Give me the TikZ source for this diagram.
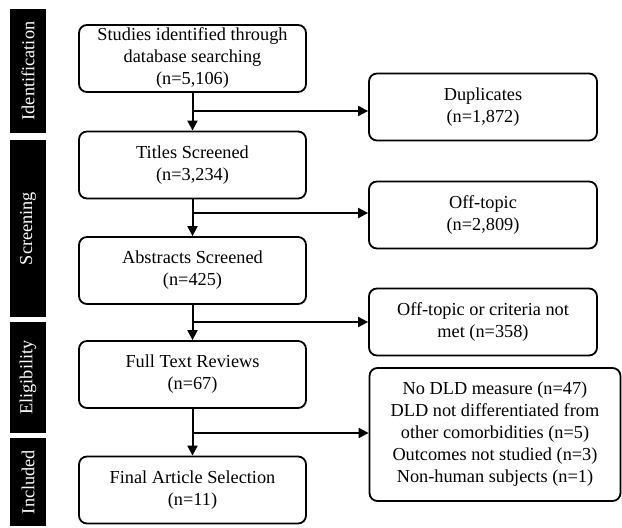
\documentclass[tikz,border=0pt]{standalone}
\usepackage{fontspec}
\setmainfont{Liberation Serif}
\usetikzlibrary{arrows.meta}
\begin{document}
\begin{tikzpicture}[x=1pt,y=-1pt,
  txt/.style={font=\fontsize{18.3}{22}\selectfont, align=center},
  box/.style={txt, draw, line width=1.8pt, rounded corners=8pt, inner sep=0pt},
  mainbox/.style={box, minimum width=227pt, minimum height=67pt},
  sidebox/.style={box, minimum width=228pt, minimum height=67pt},
  phase/.style={fill=black, draw=none, inner sep=0pt, minimum width=36pt},
  phasetxt/.style={font=\fontsize{18.3}{22}\selectfont, text=white, rotate=90},
  arr/.style={line width=2pt, -{Triangle[length=10pt,width=10pt]}},
  ln/.style={line width=2pt}]
\useasboundingbox (0,0) rectangle (622,528);
% phase bars
\node[phase, minimum height=124pt] (pid) at (28,71) {};
\node[phasetxt] (tid) at (pid.center) {Identification};
\node[phase, minimum height=177pt] (psc) at (28,228.5) {};
\node[phasetxt] (tsc) at (psc.center) {Screening};
\node[phase, minimum height=111pt] (pel) at (28,377.5) {};
\node[phasetxt] (tel) at (pel.center) {Eligibility};
\node[phase, minimum height=88pt] (pin) at (28,482) {};
\node[phasetxt] (tin) at (pin.center) {Included};
% main boxes
\node[mainbox] (b1) at (192.5,58.5) {Studies identified through\\database searching\\(n=5,106)};
\node[mainbox] (b2) at (192.5,165) {Titles Screened\\(n=3,234)};
\node[mainbox] (b3) at (192.5,270.5) {Abstracts Screened\\(n=425)};
\node[mainbox] (b4) at (192.5,374.5) {Full Text Reviews\\(n=67)};
\node[mainbox] (b5) at (192.5,490) {Final Article Selection\\(n=11)};
% side boxes
\node[sidebox] (s1) at (483,107) {Duplicates\\(n=1,872)};
\node[sidebox] (s2) at (483,215) {Off-topic\\(n=2,809)};
\node[sidebox] (s3) at (483,322) {Off-topic or criteria not\\met (n=358)};
\node[box, minimum width=251pt, minimum height=133pt] (s4) at (495,434.5) {No DLD measure (n=47)\\DLD not differentiated from\\other comorbidities (n=5)\\Outcomes not studied (n=3)\\Non-human subjects (n=1)};
% connectors
\draw[arr] (b1) -- (b2);
\draw[arr] (b2) -- (b3);
\draw[arr] (b3) -- (b4);
\draw[arr] (b4) -- (b5);
\coordinate (j1) at (192.5,111);
\coordinate (j2) at (192.5,213);
\coordinate (j3) at (192.5,322);
\coordinate (j4) at (192.5,433);
\draw[arr] (j1) -- (j1 -| s1.west);
\draw[arr] (j2) -- (j2 -| s2.west);
\draw[arr] (j3) -- (j3 -| s3.west);
\draw[arr] (j4) -- (j4 -| s4.west);
\end{tikzpicture}
\end{document}
